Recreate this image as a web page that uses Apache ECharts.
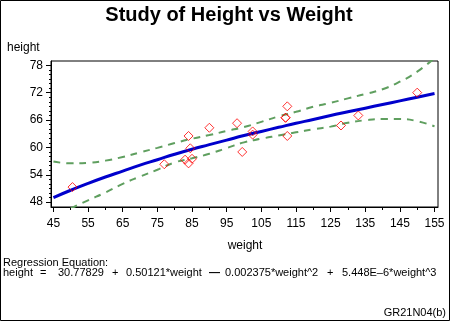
<!DOCTYPE html>
<html><head><meta charset="utf-8">
<script src="https://cdn.jsdelivr.net/npm/echarts@6/dist/echarts.min.js"></script>
<style>html,body{margin:0;padding:0;background:#fff}#c{width:451px;height:322px}</style>
</head><body><div id="c"></div>
<script>
// Observations (weight, height)
const weight = [112.5, 84, 98, 102.5, 102.5, 83, 84.5, 112.5, 84, 99.5, 50.5, 90, 77, 112, 150, 128, 133, 85, 112];
const height = [69, 56.5, 65.3, 62.8, 63.5, 57.3, 59.8, 62.5, 62.5, 59, 51.3, 64.3, 56.3, 66.5, 72, 64.8, 67, 57.5, 66.5];

// Fitted curve
const fitW = [45, 50, 55, 60, 65, 70, 75, 80, 85, 90, 95, 100, 105, 110, 115, 120, 125, 130, 135, 140, 145, 150, 155];
const fitH = [49.0, 50.6, 52.1, 53.5, 54.8, 56.1, 57.3, 58.5, 59.6, 60.6, 61.6, 62.6, 63.5, 64.4, 65.3, 66.1, 67.0, 67.8, 68.6, 69.4, 70.2, 71.0, 71.8];

// Upper confidence limit
const upW = [45, 50, 55, 60, 65, 70, 75, 80, 85, 90, 95, 100, 105, 110, 115, 120, 125, 130, 135, 140, 145, 150, 155];
const upH = [56.9, 56.5, 56.6, 57.1, 57.9, 58.9, 59.9, 60.95, 61.9, 62.7, 63.6, 64.45, 65.6, 66.8, 67.8, 68.9, 69.75, 70.75, 71.7, 72.75, 74.4, 76.6, 79.6];

// Lower confidence limit
const loW = [50, 55, 60, 65, 70, 75, 80, 85, 90, 95, 100, 105, 110, 115, 120, 125, 130, 135, 140, 145, 150, 155];
const loH = [46.6, 48.4, 50.1, 52.0, 53.6, 55.1, 56.7, 57.6, 58.6, 59.85, 61.1, 61.9, 62.6, 63.3, 63.95, 64.55, 65.4, 65.95, 66.2, 66.2, 65.75, 64.6];

// Tick values
const xMajor = [45, 55, 65, 75, 85, 95, 105, 115, 125, 135, 145, 155];
const xMinor = [50, 60, 70, 80, 90, 100, 110, 120, 130, 140, 150];
const yMajor = [48, 54, 60, 66, 72, 78];
const yMinor = [49, 50, 51, 52, 53, 55, 56, 57, 58, 59, 61, 62, 63, 64, 65, 67, 68, 69, 70, 71, 73, 74, 75, 76, 77];

// Equation text pieces
const eqParts = ['height', '=', '30.77829', '+', '0.50121*weight', '\u2014', '0.002375*weight^2', '+', '5.448E\u20136*weight^3'];

const zip = (a, b) => a.map((v, i) => [v, b[i]]);
const FONT = '"Liberation Sans", Arial, sans-serif';
const XMIN = 44.3, XMAX = 156, YMIN = 46.93, YMAX = 78.94;

const chart = echarts.init(document.getElementById('c'), null, { renderer: 'canvas' });
const baseAxis = {
  axisLine: { show: true, lineStyle: { color: '#000', width: 1 } },
  splitLine: { show: false },
  axisLabel: { show: false },
  axisTick: { show: false }
};
const text = (x, y, s, extra) => ({
  type: 'text', x, y,
  style: Object.assign({ text: s, fill: '#000', font: '12px ' + FONT, textAlign: 'left', textVerticalAlign: 'middle' }, extra || {})
});
const eqX = [3, 40, 58, 112, 126, 209, 225, 327, 342];
const eqGraphics = eqParts.map((s, i) => text(eqX[i], 273, s, { font: (s === '\u2014' ? 'bold ' : '') + '11px ' + FONT }));

chart.setOption({
  animation: false,
  backgroundColor: '#fff',
  grid: { left: 51, right: 13, top: 61, bottom: 115, show: true, borderColor: '#000', borderWidth: 1, containLabel: false },
  xAxis: [
    Object.assign({}, baseAxis, {
      type: 'value', min: XMIN, max: XMAX, position: 'bottom',
      axisTick: { show: true, length: 5, customValues: xMajor, lineStyle: { color: '#000' } },
      axisLabel: { show: true, customValues: xMajor, margin: 11, color: '#000', fontSize: 12, fontFamily: FONT }
    }),
    Object.assign({}, baseAxis, {
      type: 'value', min: XMIN, max: XMAX, position: 'bottom', offset: 0,
      axisLine: { show: false },
      axisTick: { show: true, length: 3, customValues: xMinor, lineStyle: { color: '#000' } }
    })
  ],
  yAxis: [
    Object.assign({}, baseAxis, {
      type: 'value', min: YMIN, max: YMAX, position: 'left',
      axisTick: { show: true, length: 5, customValues: yMajor, lineStyle: { color: '#000' } },
      axisLabel: { show: true, customValues: yMajor, margin: 8, color: '#000', fontSize: 12, fontFamily: FONT }
    }),
    Object.assign({}, baseAxis, {
      type: 'value', min: YMIN, max: YMAX, position: 'left', offset: 0,
      axisLine: { show: false },
      axisTick: { show: true, length: 2, customValues: yMinor, lineStyle: { color: '#000' } }
    })
  ],
  series: [
    {
      type: 'line', data: zip(upW, upH), smooth: true, symbol: 'none', clip: true, z: 2,
      lineStyle: { color: '#5f9f5f', width: 2, type: [7, 6] }
    },
    {
      type: 'line', data: zip(loW, loH), smooth: true, symbol: 'none', clip: true, z: 2,
      lineStyle: { color: '#5f9f5f', width: 2, type: [7, 6] }
    },
    {
      type: 'line', data: zip(fitW, fitH), smooth: true, symbol: 'none', clip: true, z: 3,
      lineStyle: { color: '#0000cc', width: 3 }
    },
    {
      type: 'scatter', data: zip(weight, height), symbol: 'diamond', symbolSize: [9, 9], z: 4,
      itemStyle: { color: 'rgba(0,0,0,0)', borderColor: '#ff0000', borderWidth: 1 }
    }
  ],
  graphic: [
    { type: 'rect', shape: { x: 0.5, y: 0.5, width: 449, height: 320 }, style: { fill: null, stroke: '#000', lineWidth: 1 }, z: 100 },
    text(229, 15.5, 'Study of Height vs Weight', { font: 'bold 20px ' + FONT, textAlign: 'center' }),
    text(7, 48, 'height'),
    text(245, 246, 'weight', { textAlign: 'center' }),
    text(3, 263, 'Regression Equation:', { font: '11px ' + FONT }),
    text(446, 313, 'GR21N04(b)', { font: '11px ' + FONT, textAlign: 'right' })
  ].concat(eqGraphics)
});
</script>
</body></html>
